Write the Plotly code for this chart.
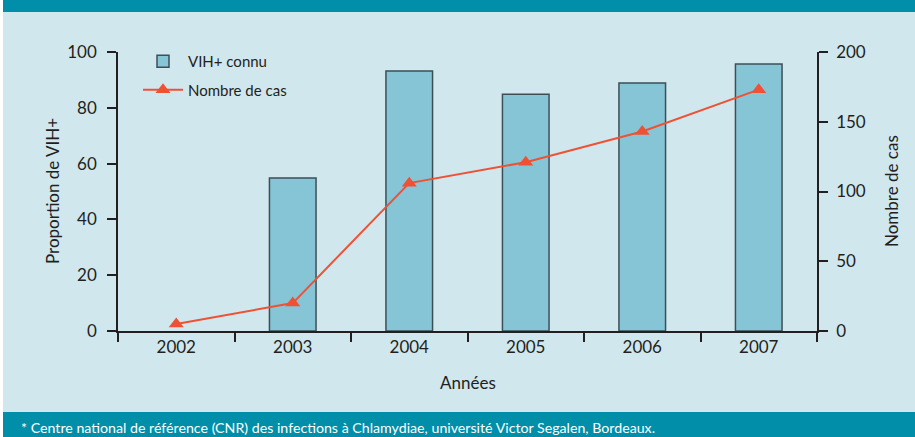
import plotly.graph_objects as go

# ---- data ----
years = ["2002", "2003", "2004", "2005", "2006", "2007"]
vih_connu = [None, 54.8, 93.2, 84.9, 88.9, 95.7]      # % (left axis)
nombre_cas = [5, 20, 106, 121, 143, 173]              # cases (right axis)
left_ticks = [0, 20, 40, 60, 80, 100]
right_ticks = [0, 50, 100, 150, 200]

W, H = 915, 437
L, R, T, B = 118, 98, 52, 106
PW, PH = W - L - R, H - T - B

def px(x):
    return (x - L) / PW

def py(y):
    return (H - B - y) / PH

BG = "#d0e7ee"
TEAL = "#008ea9"
TXT = "#231f20"
FONT = "Lato, Liberation Sans, sans-serif"

fig = go.Figure()
fig.add_trace(go.Bar(
    x=years, y=vih_connu, name="VIH+ connu", width=0.4, legendgroup="a",
    marker=dict(color="#86c5d6", line=dict(color="#3d4f55", width=1.5)),
    yaxis="y",
))
fig.add_trace(go.Scatter(
    x=years, y=nombre_cas, name="Nombre de cas", mode="lines+markers", legendgroup="b",
    line=dict(color="#ef5134", width=2),
    marker=dict(symbol="triangle-up", size=13, color="#ef5134"),
    yaxis="y2",
))

axis_common = dict(
    showgrid=False, zeroline=False, showline=True, linecolor=TXT, linewidth=1.5,
    ticks="outside", ticklen=9, tickwidth=1.5, tickcolor=TXT,
    tickfont=dict(family=FONT, size=17, color=TXT),
)

fig.update_layout(
    width=W, height=H,
    margin=dict(l=L, r=R, t=T, b=B),
    paper_bgcolor=BG, plot_bgcolor="rgba(0,0,0,0)",
    font=dict(family=FONT, color=TXT),
    bargap=0.6,
    xaxis=dict(type="category", range=[-0.5, 5.5], tickson="boundaries",
               **axis_common),
    yaxis=dict(range=[0, 100], tickvals=left_ticks, ticklabelstandoff=7,
               **axis_common),
    yaxis2=dict(range=[0, 200], tickvals=right_ticks, overlaying="y", side="right",
                ticklabelstandoff=5, **axis_common),
    showlegend=True,
    legend=dict(x=px(138), y=py(45), xanchor="left", yanchor="top",
                bgcolor="rgba(0,0,0,0)", font=dict(family=FONT, size=15, color=TXT),
                itemwidth=40, tracegroupgap=6),
    shapes=[
        dict(type="rect", xref="paper", yref="paper", x0=px(0), x1=px(3), y0=py(H), y1=py(0),
             fillcolor="white", line=dict(width=0)),
        dict(type="rect", xref="paper", yref="paper", x0=px(3), x1=px(W), y0=py(12), y1=py(0),
             fillcolor=TEAL, line=dict(width=0)),
        dict(type="rect", xref="paper", yref="paper", x0=px(3), x1=px(W), y0=py(H), y1=py(412),
             fillcolor=TEAL, line=dict(width=0)),
    ],
    annotations=[
        dict(text="Années", xref="paper", yref="paper", x=0.5, y=py(382),
             showarrow=False, xanchor="center", yanchor="middle",
             font=dict(family=FONT, size=17, color=TXT)),
        dict(text="Proportion de VIH+", xref="paper", yref="paper", x=px(52), y=py(191),
             textangle=-90, showarrow=False, xanchor="center", yanchor="middle",
             font=dict(family=FONT, size=17, color=TXT)),
        dict(text="Nombre de cas", xref="paper", yref="paper", x=px(891), y=py(191),
             textangle=-90, showarrow=False, xanchor="center", yanchor="middle",
             font=dict(family=FONT, size=17, color=TXT)),
        dict(text="* Centre national de référence (CNR) des infections à Chlamydiae, université Victor Segalen, Bordeaux.",
             xref="paper", yref="paper", x=px(19), y=py(427),
             showarrow=False, xanchor="left", yanchor="middle",
             font=dict(family=FONT, size=14.2, color="white")),
    ],
)

fig.write_html("out.html", config={"displayModeBar": False},
               post_script="document.body.style.margin='0';")
